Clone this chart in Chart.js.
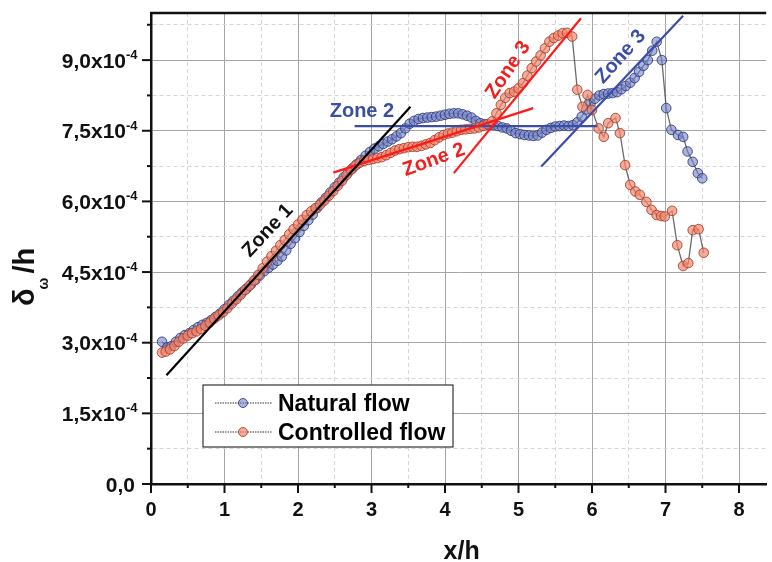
<!DOCTYPE html>
<html>
<head>
<meta charset="utf-8">
<script src="https://cdn.jsdelivr.net/npm/chart.js@4.4.0/dist/chart.umd.min.js"></script>
<style>
  html, body { margin: 0; padding: 0; background: #fff; }
  canvas { display: block; }
</style>
</head>
<body>
<canvas id="deltaChart" width="772" height="562"></canvas>
<script>
// x/h positions and delta_w/h values (y in units of 1e-4)
const naturalX = [0.15, 0.22, 0.28, 0.34, 0.40, 0.46, 0.52, 0.58, 0.64, 0.70, 0.76, 0.82, 0.88, 0.94, 1.00, 1.06, 1.12, 1.18, 1.24, 1.30,
  1.36, 1.42, 1.48, 1.54, 1.60, 1.66, 1.72, 1.78, 1.84, 1.90, 1.96, 2.02, 2.08, 2.14, 2.20, 2.26, 2.32, 2.38, 2.44, 2.50,
  2.56, 2.62, 2.68, 2.74, 2.80, 2.86, 2.92, 2.98, 3.04, 3.10, 3.16, 3.22, 3.28, 3.34, 3.40, 3.46, 3.52, 3.58, 3.64, 3.70,
  3.76, 3.82, 3.88, 3.94, 4.00, 4.06, 4.12, 4.18, 4.24, 4.30, 4.36, 4.42, 4.48, 4.54, 4.60, 4.66, 4.72, 4.78, 4.84, 4.90,
  4.96, 5.02, 5.08, 5.14, 5.20, 5.26, 5.32, 5.38, 5.44, 5.50, 5.56, 5.62, 5.68, 5.74, 5.80, 5.86, 5.92, 5.98, 6.04, 6.10,
  6.16, 6.22, 6.28, 6.34, 6.40, 6.46, 6.52, 6.58, 6.64, 6.70, 6.76, 6.82, 6.88, 6.95, 7.01, 7.08, 7.17, 7.24, 7.30, 7.37,
  7.44, 7.50];
const naturalY = [3.02, 2.90, 2.93, 3.02, 3.10, 3.16, 3.20, 3.27, 3.33, 3.38, 3.42, 3.48, 3.55, 3.62, 3.71, 3.80, 3.89, 3.98, 4.07, 4.15,
  4.24, 4.33, 4.43, 4.52, 4.59, 4.66, 4.74, 4.83, 4.96, 5.10, 5.22, 5.35, 5.48, 5.60, 5.72, 5.86, 5.98, 6.08, 6.19, 6.30,
  6.40, 6.51, 6.61, 6.70, 6.79, 6.88, 6.97, 7.05, 7.12, 7.17, 7.22, 7.27, 7.32, 7.38, 7.45, 7.55, 7.65, 7.71, 7.75, 7.77,
  7.78, 7.79, 7.80, 7.82, 7.84, 7.86, 7.87, 7.87, 7.85, 7.82, 7.78, 7.71, 7.66, 7.64, 7.62, 7.62, 7.60, 7.57, 7.55, 7.50,
  7.45, 7.43, 7.41, 7.40, 7.39, 7.40, 7.46, 7.52, 7.56, 7.59, 7.60, 7.61, 7.60, 7.62, 7.68, 7.80, 7.95, 8.08, 8.18, 8.25,
  8.28, 8.29, 8.30, 8.32, 8.38, 8.45, 8.52, 8.62, 8.75, 8.88, 9.00, 9.20, 9.39, 9.00, 7.98, 7.52, 7.41, 7.37, 7.06, 6.84,
  6.60, 6.49];

const controlledX = [0.15, 0.20, 0.26, 0.32, 0.38, 0.44, 0.50, 0.56, 0.62, 0.68, 0.74, 0.80, 0.86, 0.92, 0.98, 1.04, 1.10, 1.16, 1.22, 1.28,
  1.34, 1.40, 1.46, 1.52, 1.58, 1.64, 1.70, 1.76, 1.82, 1.88, 1.94, 2.00, 2.06, 2.12, 2.18, 2.24, 2.30, 2.36, 2.42, 2.48,
  2.54, 2.60, 2.66, 2.72, 2.78, 2.84, 2.90, 2.96, 3.02, 3.08, 3.14, 3.20, 3.26, 3.32, 3.38, 3.44, 3.50, 3.56, 3.62, 3.68,
  3.74, 3.80, 3.86, 3.92, 3.98, 4.04, 4.10, 4.16, 4.22, 4.28, 4.34, 4.40, 4.46, 4.52, 4.58, 4.64, 4.70, 4.76, 4.82, 4.88,
  4.94, 5.00, 5.06, 5.12, 5.18, 5.24, 5.30, 5.36, 5.42, 5.48, 5.54, 5.60, 5.66, 5.73, 5.80, 5.87, 5.94, 6.00, 6.09, 6.16,
  6.22, 6.32, 6.38, 6.45, 6.52, 6.59, 6.65, 6.74, 6.81, 6.88, 6.94, 6.99, 7.09, 7.16, 7.24, 7.31, 7.37, 7.45, 7.52];
const controlledY = [2.79, 2.81, 2.86, 2.93, 3.02, 3.09, 3.15, 3.20, 3.24, 3.29, 3.36, 3.43, 3.51, 3.58, 3.65, 3.73, 3.83, 3.92, 4.02, 4.12,
  4.21, 4.32, 4.44, 4.58, 4.72, 4.84, 4.95, 5.07, 5.18, 5.30, 5.41, 5.51, 5.61, 5.71, 5.79, 5.86, 5.93, 6.02, 6.12, 6.22,
  6.33, 6.44, 6.56, 6.67, 6.76, 6.82, 6.86, 6.88, 6.90, 6.92, 6.94, 6.98, 7.03, 7.08, 7.11, 7.13, 7.15, 7.16, 7.16, 7.18,
  7.21, 7.24, 7.30, 7.36, 7.41, 7.44, 7.46, 7.49, 7.52, 7.53, 7.54, 7.55, 7.57, 7.60, 7.64, 7.70, 7.87, 8.05, 8.20, 8.30,
  8.33, 8.40, 8.51, 8.67, 8.83, 8.97, 9.10, 9.25, 9.39, 9.47, 9.52, 9.57, 9.58, 9.50, 8.37, 8.01, 8.26, 7.94, 7.55, 7.37,
  7.66, 7.77, 7.45, 6.77, 6.35, 6.21, 6.14, 5.99, 5.82, 5.71, 5.69, 5.68, 5.80, 5.07, 4.63, 4.69, 5.39, 5.41, 4.91];

// fitted zone lines: [start, end] as x/h and y (1e-4)
const zone1BlackX = [0.21, 3.53];
const zone1BlackY = [2.31, 8.01];
const zone2RedX = [2.48, 5.20];
const zone2RedY = [6.61, 7.98];
const zone3RedX = [4.12, 5.85];
const zone3RedY = [6.60, 9.89];
const zone2BlueX = [2.77, 6.07];
const zone2BlueY = [7.60, 7.60];
const zone3BlueX = [5.31, 7.24];
const zone3BlueY = [6.74, 9.94];

const xTickLabels = ["0", "1", "2", "3", "4", "5", "6", "7", "8"];
const yTickLabels = ["0,0", "1,5", "3,0", "4,5", "6,0", "7,5", "9,0"];
const seriesNames = ["Natural flow", "Controlled flow"];

const zoneLabels = [
  { text: "Zone 1", x: 1.59, y: 5.38, angle: -47, color: "#111111" },
  { text: "Zone 2", x: 2.87, y: 7.90, angle: 0, color: "#3a4ea3" },
  { text: "Zone 2", x: 3.85, y: 6.88, angle: -20, color: "#f21d1d" },
  { text: "Zone 3", x: 4.86, y: 8.79, angle: -56, color: "#f21d1d" },
  { text: "Zone 3", x: 6.39, y: 9.07, angle: -48, color: "#3a4ea3" }
];

const FONT = "'Liberation Sans', Arial, sans-serif";
const BLUE_FILL = "rgba(115,130,200,0.6)";
const BLUE_EDGE = "rgba(45,55,120,0.85)";
const RED_FILL = "rgba(245,135,110,0.7)";
const RED_EDGE = "rgba(160,60,40,0.85)";

function toPoints(xs, ys) {
  return xs.map((x, i) => ({ x: x, y: ys[i] }));
}

function onStep(v, step) {
  return Math.abs(v / step - Math.round(v / step)) < 1e-6;
}

function fitLine(xs, ys, color) {
  return {
    data: toPoints(xs, ys),
    borderColor: color,
    borderWidth: 2.2,
    pointRadius: 0,
    order: 0
  };
}

const axisDecor = {
  id: "axisDecor",
  afterDraw(chart) {
    const ctx = chart.ctx;
    const area = chart.chartArea;
    const xs = chart.scales.x;
    const ys = chart.scales.y;
    ctx.save();

    // top frame line
    ctx.strokeStyle = "#111";
    ctx.lineWidth = 2.5;
    ctx.beginPath();
    ctx.moveTo(area.left - 1, area.top);
    ctx.lineTo(area.right, area.top);
    ctx.stroke();

    // tick marks
    ctx.lineWidth = 2;
    xs.ticks.forEach((t) => {
      const px = xs.getPixelForValue(t.value);
      const len = onStep(t.value, 1) ? 9 : 4;
      ctx.beginPath();
      ctx.moveTo(px, area.bottom);
      ctx.lineTo(px, area.bottom + len);
      ctx.stroke();
    });
    ys.ticks.forEach((t) => {
      const py = ys.getPixelForValue(t.value);
      const len = onStep(t.value, 1.5) ? 9 : 4;
      ctx.beginPath();
      ctx.moveTo(area.left, py);
      ctx.lineTo(area.left - len, py);
      ctx.stroke();
    });

    // x tick labels
    ctx.fillStyle = "#111";
    ctx.font = "bold 20px " + FONT;
    ctx.textAlign = "center";
    ctx.textBaseline = "alphabetic";
    xTickLabels.forEach((lab) => {
      const px = xs.getPixelForValue(parseFloat(lab));
      ctx.fillText(lab, px, 516);
    });

    // y tick labels with x10^-4
    yTickLabels.forEach((lab) => {
      const py = ys.getPixelForValue(parseFloat(lab.replace(",", ".")));
      ctx.font = "bold 21px " + FONT;
      if (lab === "0,0") {
        ctx.textAlign = "right";
        ctx.fillText(lab, 135, py + 7.5);
      } else {
        ctx.textAlign = "right";
        ctx.fillText(lab + "x10", 126, py + 7.5);
        ctx.font = "bold 13px " + FONT;
        ctx.textAlign = "left";
        ctx.fillText("-4", 126, py - 1);
      }
    });

    // axis titles
    ctx.font = "bold 25px " + FONT;
    ctx.textAlign = "center";
    ctx.fillText("x/h", (area.left + area.right) / 2 + 3, 559);

    ctx.save();
    ctx.translate(34, 306);
    ctx.rotate(-Math.PI / 2);
    ctx.textAlign = "left";
    ctx.font = "bold 29px " + FONT;
    const wd = ctx.measureText("\u03B4").width;
    ctx.fillText("\u03B4", 0, 0);
    ctx.font = "bold 14px " + FONT;
    const ww = ctx.measureText("\u03C9").width;
    ctx.fillText("\u03C9", wd - 1, 14);
    ctx.font = "bold 29px " + FONT;
    ctx.fillText("/h", wd + ww + 3, 0);
    ctx.restore();

    // zone labels
    ctx.font = "bold 20px " + FONT;
    ctx.textAlign = "center";
    ctx.textBaseline = "middle";
    zoneLabels.forEach((z) => {
      ctx.save();
      ctx.translate(xs.getPixelForValue(z.x), ys.getPixelForValue(z.y));
      ctx.rotate(z.angle * Math.PI / 180);
      ctx.fillStyle = z.color;
      ctx.fillText(z.text, 0, 0);
      ctx.restore();
    });

    // legend box
    const bx = 203, by = 385, bw = 250, bh = 62;
    ctx.fillStyle = "#fff";
    ctx.fillRect(bx, by, bw, bh);
    ctx.strokeStyle = "#333";
    ctx.lineWidth = 1.2;
    ctx.strokeRect(bx, by, bw, bh);
    const rows = [
      { name: seriesNames[0], fill: BLUE_FILL, edge: BLUE_EDGE, y: 403 },
      { name: seriesNames[1], fill: RED_FILL, edge: RED_EDGE, y: 432 }
    ];
    rows.forEach((r) => {
      ctx.strokeStyle = "#777";
      ctx.lineWidth = 1.5;
      ctx.setLineDash([1.5, 1]);
      ctx.beginPath();
      ctx.moveTo(215, r.y);
      ctx.lineTo(272, r.y);
      ctx.stroke();
      ctx.setLineDash([]);
      ctx.beginPath();
      ctx.arc(243, r.y, 4.5, 0, Math.PI * 2);
      ctx.fillStyle = r.fill;
      ctx.fill();
      ctx.strokeStyle = r.edge;
      ctx.lineWidth = 1;
      ctx.stroke();
      ctx.fillStyle = "#000";
      ctx.font = "bold 23px " + FONT;
      ctx.textAlign = "left";
      ctx.textBaseline = "alphabetic";
      ctx.fillText(r.name, 278, r.y + 8);
    });

    ctx.restore();
  }
};

const ctx = document.getElementById("deltaChart").getContext("2d");

const myChart = new Chart(ctx, {
  type: "line",
  data: {
    datasets: [
      fitLine(zone1BlackX, zone1BlackY, "#000000"),
      fitLine(zone2RedX, zone2RedY, "#ff1a1a"),
      fitLine(zone3RedX, zone3RedY, "#ff1a1a"),
      fitLine(zone2BlueX, zone2BlueY, "#3a4ea3"),
      fitLine(zone3BlueX, zone3BlueY, "#3a4ea3"),
      {
        label: seriesNames[0],
        data: toPoints(naturalX, naturalY),
        borderColor: "rgba(70,70,70,0.8)",
        borderWidth: 1.3,
        pointRadius: 4.8,
        pointBackgroundColor: BLUE_FILL,
        pointBorderColor: BLUE_EDGE,
        pointBorderWidth: 1,
        order: 2
      },
      {
        label: seriesNames[1],
        data: toPoints(controlledX, controlledY),
        borderColor: "rgba(70,70,70,0.8)",
        borderWidth: 1.3,
        pointRadius: 4.8,
        pointBackgroundColor: RED_FILL,
        pointBorderColor: RED_EDGE,
        pointBorderWidth: 1,
        order: 1
      }
    ]
  },
  options: {
    responsive: false,
    animation: false,
    devicePixelRatio: 1,
    layout: { padding: { top: 13, right: 0, bottom: 0, left: 0 } },
    plugins: {
      legend: { display: false },
      tooltip: { enabled: false }
    },
    scales: {
      x: {
        type: "linear",
        min: 0,
        max: 8.37,
        afterFit: (s) => { s.height = 78; },
        ticks: { display: false, stepSize: 0.5, includeBounds: false },
        grid: {
          drawTicks: false,
          color: (c) => (c.tick && onStep(c.tick.value, 1) ? "#a4a4a4" : "#d6d6d6"),
          lineWidth: 1
        },
        border: {
          color: "#111",
          width: 2.5,
          dash: (c) => (c.tick && !onStep(c.tick.value, 1) ? [4, 3] : [])
        }
      },
      y: {
        type: "linear",
        min: 0,
        max: 10,
        afterFit: (s) => { s.width = 151; },
        ticks: { display: false, stepSize: 0.75, includeBounds: false },
        grid: {
          drawTicks: false,
          color: (c) => (c.tick && onStep(c.tick.value, 1.5) ? "#a4a4a4" : "#d6d6d6"),
          lineWidth: 1
        },
        border: {
          color: "#111",
          width: 2.5,
          dash: (c) => (c.tick && !onStep(c.tick.value, 1.5) ? [4, 3] : [])
        }
      }
    }
  },
  plugins: [axisDecor]
});
</script>
</body>
</html>
